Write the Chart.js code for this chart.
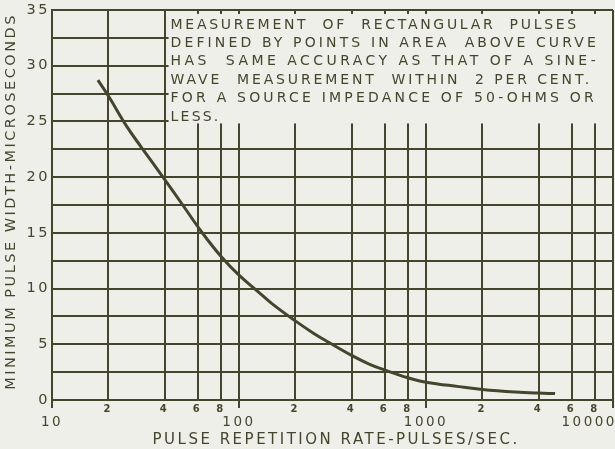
<!DOCTYPE html>
<html>
<head>
<meta charset="utf-8">
<script src="https://cdn.jsdelivr.net/npm/chart.js@4.4.1/dist/chart.umd.min.js"></script>
<style>
  html, body { margin: 0; padding: 0; background: #efefe9; }
  #wrap { width: 615px; height: 449px; position: relative; }
</style>
</head>
<body>
<div id="wrap"><canvas id="c"></canvas></div>
<script>
// ---- data ----
const PULSE_RATE = [17.6, 20, 25, 30, 40, 50, 63, 80, 100, 125, 150, 200, 250, 300, 400, 500, 600, 800, 1000, 1500, 2000, 3000, 4000, 4900];
const MIN_WIDTH  = [28.7, 27.3, 24.6, 22.7, 19.8, 17.5, 15.1, 12.9, 11.2, 9.8, 8.65, 7.1, 6.0, 5.2, 4.0, 3.2, 2.7, 2.0, 1.6, 1.2, 0.95, 0.72, 0.62, 0.58];
const X_TICKS = [10, 20, 40, 60, 80, 100, 200, 400, 600, 800, 1000, 2000, 4000, 6000, 8000, 10000];
const Y_TICKS = [0, 2.5, 5, 7.5, 10, 12.5, 15, 17.5, 20, 22.5, 25, 27.5, 30, 32.5, 35];
const Y_LABELS = [0, 5, 10, 15, 20, 25, 30, 35];
const X_TITLE = 'PULSE REPETITION RATE-PULSES/SEC.';
const Y_TITLE = 'MINIMUM PULSE WIDTH-MICROSECONDS';
const NOTE_LINES = [
  'MEASUREMENT  OF  RECTANGULAR  PULSES',
  'DEFINED BY POINTS IN AREA  ABOVE CURVE',
  'HAS  SAME ACCURACY AS THAT OF A SINE-',
  'WAVE  MEASUREMENT  WITHIN  2 PER CENT.',
  'FOR A SOURCE IMPEDANCE OF 50-OHMS OR',
  'LESS.'
];
const NOTE_BOX = { xFrom: 40, xTo: 10000, yFrom: 35, yTo: 25 };

// ---- style ----
const INK = '#45452e';
const BG = '#efefe9';
const FONT = '"DejaVu Sans", sans-serif';
const NOTE_RIGHT = [579, 599, 599, 592, 597, null];

const isDecade = v => Math.abs(Math.log10(v) - Math.round(Math.log10(v))) < 1e-9;

const notePlugin = {
  id: 'note',
  beforeDraw(chart) {
    chart.ctx.letterSpacing = '2.5px';
  },
  beforeDatasetsDraw(chart) {
    const {ctx, scales: {x, y}} = chart;
    const x0 = x.getPixelForValue(NOTE_BOX.xFrom);
    const x1 = x.getPixelForValue(NOTE_BOX.xTo);
    const y0 = y.getPixelForValue(NOTE_BOX.yFrom);
    const y1 = y.getPixelForValue(NOTE_BOX.yTo);
    ctx.save();
    ctx.fillStyle = BG;
    ctx.fillRect(x0 + 4, y0 + 4, x1 - x0 - 5, y1 - y0 - 2);
    ctx.fillStyle = INK;
    ctx.font = '14px ' + FONT;
    ctx.textBaseline = 'middle';
    ctx.textAlign = 'left';
    const tx = x0 + 6;
    NOTE_LINES.forEach((line, i) => {
      ctx.letterSpacing = '0px';
      const w = ctx.measureText(line).width;
      let ls = 2.2;
      if (NOTE_RIGHT[i]) ls = (NOTE_RIGHT[i] - tx - w) / line.length;
      ctx.letterSpacing = ls.toFixed(2) + 'px';
      ctx.fillText(line, tx, y0 + 15 + i * 18.4);
    });
    ctx.restore();
  }
};

new Chart(document.getElementById('c'), {
  type: 'line',
  data: {
    datasets: [{
      data: PULSE_RATE.map((v, i) => ({x: v, y: MIN_WIDTH[i]})),
      borderColor: INK,
      borderWidth: 3,
      pointRadius: 0,
      tension: 0.4,
      fill: false
    }]
  },
  options: {
    responsive: true,
    maintainAspectRatio: false,
    animation: false,
    devicePixelRatio: 1,
    layout: { padding: { left: 0, right: 2, top: 10, bottom: 0 } },
    plugins: { legend: { display: false }, tooltip: { enabled: false } },
    scales: {
      x: {
        type: 'logarithmic',
        min: 10, max: 10000,
        afterBuildTicks: s => { s.ticks = X_TICKS.map(v => ({value: v})); },
        afterFit: s => { s.height = 49; s.paddingLeft = 0; s.paddingRight = 0; },
        grid: {
          color: INK, lineWidth: 2, drawTicks: true, tickLength: 8,
          tickColor: c => (c.tick && isDecade(c.tick.value)) ? INK : 'rgba(0,0,0,0)'
        },
        border: { color: INK, width: 2 },
        ticks: {
          autoSkip: false, maxRotation: 0, minRotation: 0,
          padding: -4.5,
          color: INK,
          font: c => (c.tick && isDecade(c.tick.value))
            ? {family: FONT, size: 13.5, lineHeight: '12.5px'}
            : {family: FONT, size: 10, weight: 'bold', lineHeight: '11px'},
          callback: v => {
            if (isDecade(v)) {
              if (v === 10000) return ['', '10000       '];
              return ['', String(v)];
            }
            return [String(Math.round(v / Math.pow(10, Math.floor(Math.log10(v)))))];
          }
        },
        title: {
          display: true, text: ' ' + X_TITLE, color: INK,
          font: {family: FONT, size: 15}, padding: {top: 0, bottom: 0}
        }
      },
      y: {
        min: 0, max: 35,
        afterBuildTicks: s => { s.ticks = Y_TICKS.map(v => ({value: v})); },
        afterFit: s => { s.width = 52; s.paddingTop = 0; s.paddingBottom = 0; },
        grid: { color: INK, lineWidth: 2, drawTicks: false },
        border: { color: INK, width: 2 },
        ticks: {
          padding: 2, color: INK,
          font: {family: FONT, size: 14.5},
          callback: v => Y_LABELS.includes(v) ? String(v) : ''
        },
        title: {
          display: true, text: ' ' + Y_TITLE, color: INK,
          font: {family: FONT, size: 14.5}, padding: {top: 3, bottom: 0}
        }
      }
    }
  },
  plugins: [notePlugin]
});
</script>
</body>
</html>
